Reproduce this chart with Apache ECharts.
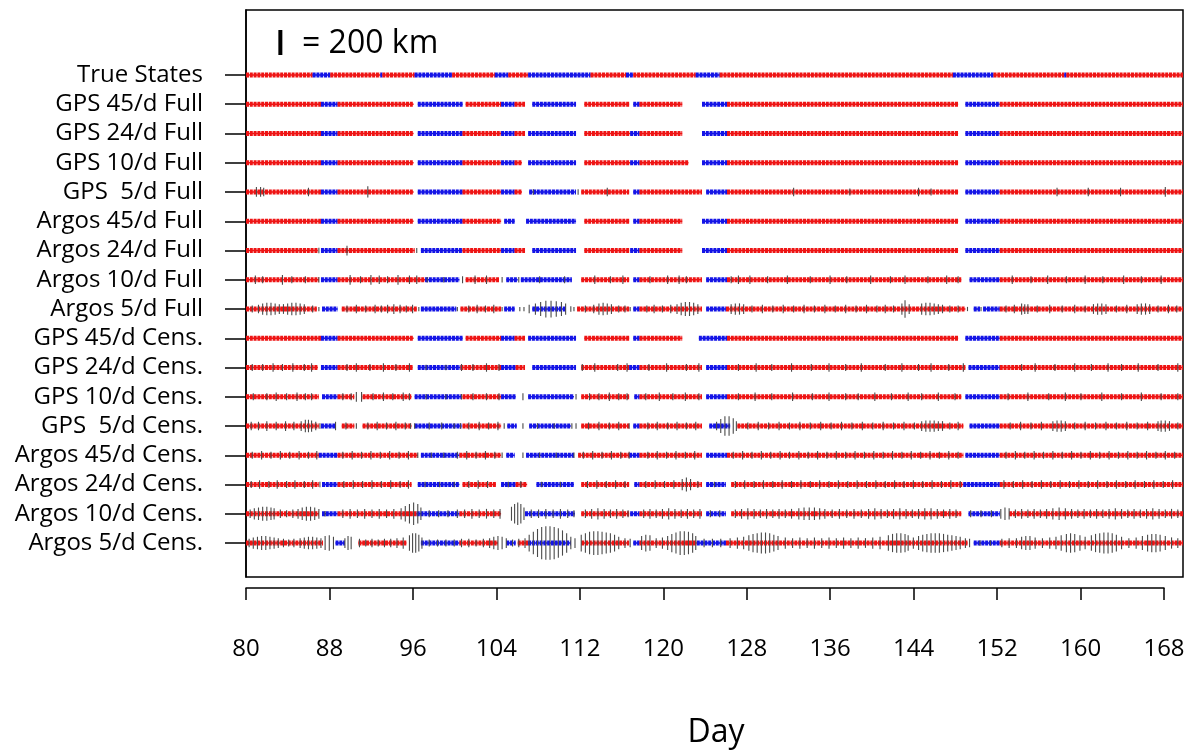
<!DOCTYPE html>
<html><head><meta charset="utf-8">
<script src="https://cdn.jsdelivr.net/npm/echarts@6/dist/echarts.min.js"></script>
<style>html,body{margin:0;padding:0;background:#fff}#c{width:1190px;height:750px}</style>
</head><body><div id="c"></div>
<script>
// ---------- DATA ----------
const rowLabels = ["True States","GPS 45/d Full","GPS 24/d Full","GPS 10/d Full","GPS  5/d Full",
  "Argos 45/d Full","Argos 24/d Full","Argos 10/d Full","Argos 5/d Full",
  "GPS 45/d Cens.","GPS 24/d Cens.","GPS 10/d Cens.","GPS  5/d Cens.",
  "Argos 45/d Cens.","Argos 24/d Cens.","Argos 10/d Cens.","Argos 5/d Cens."];
const dayTicks = [80,88,96,104,112,120,128,136,144,152,160,168];
const scaleBarKm = 200;

// segments: [startDay, endDay, state]  (R = state 1, B = state 2)
const segTrue = [[80,86.4,'R'],[86.4,88.1,'B'],[88.1,92.9,'R'],[92.9,93.1,'B'],[93.1,96.2,'R'],[96.2,99.8,'B'],[99.8,103.9,'R'],[103.9,105.2,'B'],[105.2,107.1,'R'],[107.1,113.1,'B'],[113.1,116.5,'R'],[116.5,117.2,'B'],[117.2,123.2,'R'],[123.2,125.5,'B'],[125.5,147.9,'R'],[147.9,151.8,'B'],[151.8,158.6,'R'],[158.6,158.8,'B'],[158.8,170,'R']];
const segGps45F = [[80,87.2,'R'],[87.2,88.8,'B'],[88.8,96.1,'R'],[96.5,100.8,'B'],[101.1,104.5,'R'],[104.5,105.8,'B'],[105.8,106.8,'R'],[107.5,111.7,'B'],[112.5,116.8,'R'],[117.2,117.8,'B'],[117.8,121.9,'R'],[123.8,126.2,'B'],[126.2,148.4,'R'],[149.1,152.4,'B'],[152.4,170,'R']];
const segGps24F = [[80,87.2,'R'],[87.2,88.8,'B'],[88.8,96.1,'R'],[96.5,100.8,'B'],[100.8,104.5,'R'],[104.5,105.8,'B'],[105.8,106.8,'R'],[107.1,111.7,'B'],[112.5,116.9,'R'],[116.9,117.8,'B'],[117.8,121.9,'R'],[123.8,126.2,'B'],[126.2,148.4,'R'],[149.1,152.4,'B'],[152.4,170,'R']];
const segGps10F = [[80,87.2,'R'],[87.2,88.8,'B'],[88.8,96.1,'R'],[96.5,100.8,'B'],[100.8,104.5,'R'],[104.5,105.8,'B'],[105.8,106.5,'R'],[107.1,111.7,'B'],[112.5,116.9,'R'],[116.9,117.8,'B'],[117.8,122.5,'R'],[123.8,126.2,'B'],[126.2,148.4,'R'],[149.1,152.4,'B'],[152.4,170,'R']];
const segGps5F = [[80,87.2,'R'],[87.2,88.8,'B'],[88.8,96.1,'R'],[96.5,100.8,'B'],[100.8,104.5,'R'],[104.5,105.8,'B'],[105.8,106.5,'R'],[107.2,111.7,'B'],[112.2,116.8,'R'],[117.2,117.8,'B'],[117.8,123.8,'R'],[124.2,126.2,'B'],[126.2,148.4,'R'],[149.1,152.4,'B'],[152.4,170,'R']];
const segArgos45F = [[80,87.2,'R'],[87.2,88.8,'B'],[88.8,96.1,'R'],[96.5,100.8,'B'],[100.8,104.5,'R'],[104.8,105.8,'B'],[106.9,111.7,'B'],[112.5,116.8,'R'],[117.2,117.8,'B'],[117.8,121.9,'R'],[123.8,126.2,'B'],[126.2,148.4,'R'],[149.1,152.4,'B'],[152.4,170,'R']];
const segArgos24F = [[80,86.9,'R'],[87.2,88.8,'B'],[88.8,96.2,'R'],[96.8,100.8,'B'],[100.8,104.5,'R'],[104.5,105.8,'B'],[105.8,106.8,'R'],[107.5,111.7,'B'],[112.5,116.8,'R'],[116.9,117.8,'B'],[117.8,121.9,'R'],[123.8,126.2,'B'],[126.2,148.4,'R'],[149.1,152.4,'B'],[152.4,170,'R']];
const segArgos10F = [[80,87.0,'R'],[87.2,88.8,'B'],[88.8,97.2,'R'],[97.2,100.5,'B'],[101.1,104.3,'R'],[105.0,106.1,'B'],[106.4,111.3,'B'],[112.2,116.8,'R'],[117.2,117.8,'B'],[117.8,123.8,'R'],[124.2,126.2,'B'],[126.2,148.7,'R'],[149.5,152.4,'B'],[152.4,170,'R']];
const segArgos5F = [[80,86.8,'R'],[87.3,88.8,'B'],[89.2,96.4,'R'],[96.8,100.2,'B'],[100.6,104.5,'R'],[104.8,105.8,'B'],[107.5,110.7,'B'],[111.8,116.8,'R'],[117.2,117.8,'B'],[117.8,123.8,'R'],[124.2,126.1,'B'],[126.1,149.1,'R'],[149.9,150.5,'B'],[150.8,152.4,'B'],[152.4,170,'R']];
const segGps45C = [[80,87.2,'R'],[87.2,88.8,'B'],[88.8,96.1,'R'],[96.5,100.8,'B'],[101.1,104.5,'R'],[104.5,105.8,'B'],[105.8,106.8,'R'],[107.1,111.7,'B'],[112.5,116.8,'R'],[117.2,117.8,'B'],[117.8,121.9,'R'],[123.5,126.2,'B'],[126.2,148.4,'R'],[149.1,152.4,'B'],[152.4,170,'R']];
const segGps24C = [[80,86.9,'R'],[87.2,88.8,'B'],[88.8,96.0,'R'],[96.5,100.6,'B'],[100.6,104.5,'R'],[104.5,105.9,'B'],[105.9,106.8,'R'],[107.5,111.7,'B'],[112.2,116.8,'R'],[116.8,117.8,'B'],[117.8,123.8,'R'],[124.2,126.2,'B'],[126.2,149.1,'R'],[149.4,152.4,'B'],[152.4,170,'R']];
const segGps10C = [[80,87.0,'R'],[87.3,88.8,'B'],[88.8,90.4,'R'],[91.2,95.9,'R'],[96.2,100.7,'B'],[100.8,104.5,'R'],[104.5,105.9,'B'],[107.1,111.5,'B'],[112.2,116.8,'R'],[117.3,117.8,'B'],[117.8,123.8,'R'],[124.2,126.2,'B'],[126.2,148.7,'R'],[149.1,152.4,'B'],[152.4,170,'R']];
const segGps5C = [[80,87.0,'R'],[87.2,88.6,'B'],[89.2,90.4,'R'],[91.2,95.9,'R'],[96.2,100.7,'B'],[100.8,104.5,'R'],[105.1,106.0,'B'],[107.2,111.2,'B'],[112.2,116.8,'R'],[117.2,117.8,'B'],[117.8,123.8,'R'],[124.5,126.5,'B'],[127.2,148.9,'R'],[149.5,152.4,'B'],[152.4,170,'R']];
const segArgos45C = [[80,87.0,'R'],[87.0,88.8,'B'],[88.8,96.5,'R'],[96.8,100.5,'B'],[100.5,104.5,'R'],[105.0,105.8,'B'],[106.9,111.5,'B'],[111.9,116.8,'R'],[116.8,117.8,'B'],[117.8,123.8,'R'],[124.2,126.2,'B'],[126.2,148.9,'R'],[149.1,152.4,'B'],[152.4,170,'R']];
const segArgos24C = [[80,87.0,'R'],[87.3,88.8,'B'],[88.8,95.9,'R'],[96.5,100.5,'B'],[100.8,104.0,'R'],[104.5,105.9,'B'],[105.9,107.0,'R'],[107.9,111.5,'B'],[112.2,116.8,'R'],[117.3,117.8,'B'],[117.8,123.8,'R'],[124.2,126.1,'B'],[126.6,148.9,'R'],[148.9,152.4,'B'],[152.4,170,'R']];
const segArgos10C = [[80,87.0,'R'],[87.3,88.8,'B'],[88.8,96.4,'R'],[96.4,100.5,'B'],[100.5,104.5,'R'],[106.8,111.6,'B'],[112.2,116.8,'R'],[116.9,117.8,'B'],[117.8,123.8,'R'],[124.2,126.1,'B'],[126.6,148.7,'R'],[149.4,152.4,'B'],[153.3,170,'R']];
const segArgos5C = [[80,87.4,'R'],[88.6,89.5,'B'],[90.8,95.4,'R'],[96.8,100.5,'B'],[100.5,104.2,'R'],[105.0,105.9,'B'],[106.1,107.1,'R'],[107.1,111.2,'B'],[112.2,116.8,'R'],[117.2,117.8,'B'],[117.8,123.3,'R'],[123.3,126.1,'B'],[126.1,149.3,'R'],[149.9,152.4,'B'],[152.4,170,'R']];

// error bars: [day, half-length in km]
const errGps5F = [[81.0,39],[81.4,39],[81.7,34],[86.0,34],[91.7,45],[107.6,22],[111.9,22],[114.7,34],[132.6,34],[138.0,28],[144.6,34],[145.8,28],[157.9,34],[160.9,34],[164.0,34],[168.3,39]];
const errArgos24F = [[87.0,22],[89.7,39],[96.4,20]];
const errArgos10F = [[80.9,34],[81.6,28],[83.5,39],[84.4,28],[85.7,28],[87.0,22],[90.0,39],[91.0,28],[92.0,39],[92.8,34],[93.6,28],[94.6,39],[95.7,34],[96.4,34],[97.4,22],[99.0,22],[100.8,28],[102.0,34],[103.1,34],[104.6,22],[106.2,22],[108.2,28],[110.6,28],[113.5,34],[115.0,28],[116.2,34],[118.8,28],[120.5,34],[121.6,34],[122.3,28],[126.6,28],[127.3,34],[128.4,34],[130.1,28],[132.0,34],[134.2,28],[136.1,34],[137.7,28],[140.0,34],[141.9,28],[143.3,34],[145.5,28],[147.3,34],[148.4,28],[153.6,34],[155.4,28],[157.0,34],[158.8,28],[160.6,34],[162.3,28],[164.3,34],[166.0,28],[167.9,34]];
const errArgos5F = [[80.6,28],[81.2,34],[81.6,45],[82.0,50],[82.4,50],[82.8,45],[83.2,39],[83.6,39],[84.0,45],[84.4,50],[84.8,50],[85.2,45],[85.6,39],[86.4,28],[87.0,17],
 [89.7,28],[90.6,34],[91.5,28],[92.4,34],[93.0,28],[93.6,34],[94.2,39],[94.8,34],[95.4,28],[96.0,34],[96.6,17],
 [100.3,17],[101.4,28],[102.2,34],[103.0,28],[103.8,34],[104.6,17],
 [106.3,17],[106.7,17],[107.2,34],[107.8,45],[108.3,56],[108.8,67],[109.3,67],[109.8,62],[110.3,56],[110.7,45],[111.2,22],[111.5,17],
 [112.6,28],[113.4,34],[113.9,45],[114.3,50],[114.7,45],[115.1,39],[115.8,28],[116.4,28],[116.9,17],
 [118.5,28],[119.2,34],[120.0,28],[120.8,34],[121.4,39],[121.8,50],[122.2,56],[122.6,56],[123.0,50],[123.4,39],
 [126.6,39],[127.0,45],[127.4,45],[127.8,39],[128.6,28],[129.6,34],[130.6,28],[131.6,34],[132.6,28],[133.6,34],[134.6,28],[135.6,34],[136.6,28],[137.6,34],[138.6,28],[139.6,34],[140.6,28],[141.4,34],[142.2,28],[143.0,45],[143.3,70],[143.7,39],[144.9,45],[145.3,50],[145.7,50],[146.1,45],[146.5,39],[146.9,34],[147.6,28],[148.4,28],[149.3,17],[150.6,17],
 [153.0,28],[153.8,34],[154.5,45],[154.8,39],[155.1,39],[156.0,28],[157.2,34],[158.4,28],[159.6,34],[160.6,28],[161.4,39],[161.8,45],[162.2,45],[162.6,39],[163.6,28],[164.6,34],[165.6,39],[166.0,45],[166.4,45],[166.8,39],[167.6,28],[168.6,34],[169.4,28]];
const errGps24C = [[80.6,28],[81.6,28],[82.6,34],[83.5,28],[84.5,34],[85.6,28],[86.3,34],[89.7,28],[90.6,34],[91.9,28],[93.2,34],[94.4,28],[95.7,34],[97.3,22],[99.2,22],[100.7,28],[101.8,28],[103.1,34],[104.3,28],[112.3,28],[113.5,34],[115.7,28],[116.6,34],[118.7,28],[120.4,34],[122.3,28],[123.5,34],[127.3,28],[129.0,34],[130.5,28],[132.4,34],[134.3,28],[136.0,34],[137.6,28],[139.1,34],[141.4,28],[143.0,34],[144.6,28],[145.8,34],[147.5,28],[148.9,34],[154.5,28],[155.8,34],[157.7,28],[159.6,34],[161.2,28],[162.8,34],[164.1,28],[165.7,34],[167.6,28],[169.5,34]];
const errGps10C = [[80.7,28],[82.0,28],[82.9,34],[83.9,28],[84.9,34],[85.7,28],[86.3,28],[89.3,28],[90.1,28],[90.6,39],[91.1,39],[92.2,28],[93.2,34],[94.1,28],[95.1,34],[95.7,28],[97.3,22],[99.2,22],[100.7,22],[101.8,28],[103.1,28],[104.3,28],[106.6,28],[111.7,22],[113.0,28],[113.9,28],[114.9,34],[115.8,28],[116.6,28],[118.4,28],[119.7,34],[121.0,28],[122.2,34],[123.5,28],[127.3,28],[128.9,34],[130.5,28],[132.5,34],[134.4,28],[136.0,34],[137.6,28],[138.8,28],[140.4,34],[142.0,28],[143.6,34],[144.9,28],[146.5,34],[148.1,28],[153.2,28],[155.1,34],[157.1,28],[158.7,34],[160.2,28],[162.2,34],[164.1,28],[166.0,34],[167.9,28],[169.5,28]];
const errGps5C = [[80.5,34],[81.2,34],[82.0,39],[82.9,34],[83.8,39],[84.6,34],[85.3,39],[85.7,50],[86.0,50],[86.3,45],[86.7,34],[87.1,22],[88.6,34],[89.6,28],[90.6,22],[91.7,28],[92.6,34],[93.5,28],[94.4,34],[95.3,28],[95.8,22],[96.2,22],[97.6,28],[98.8,28],[100.0,22],[100.6,22],[101.4,28],[102.4,34],[103.3,28],[104.2,34],[104.8,22],[106.6,22],[108.0,22],[109.6,22],[111.3,22],[111.7,22],[112.9,28],[113.9,34],[114.9,28],[115.8,34],[116.8,22],[118.6,28],[119.5,34],[120.5,28],[121.4,34],[122.3,28],[123.2,34],[125.2,34],[125.6,56],[126.0,78],[126.4,78],[126.8,62],[127.1,39],[128.2,28],[129.2,34],[130.2,28],[131.2,34],[132.2,28],[133.2,34],[134.2,28],[135.2,34],[136.2,28],[137.2,34],[138.2,28],[139.2,34],[140.2,28],[141.2,34],[142.2,28],[143.2,34],[144.2,28],[144.9,39],[145.3,45],[145.7,45],[146.1,45],[146.5,39],[146.9,39],[147.6,28],[148.4,34],[153.4,28],[154.4,34],[155.4,28],[156.4,34],[157.5,39],[157.9,45],[158.3,45],[158.7,39],[159.6,28],[160.6,34],[161.6,28],[162.6,34],[163.6,28],[164.6,34],[165.6,28],[166.6,34],[167.6,39],[167.9,45],[168.3,45],[168.7,39],[169.5,28]];
const errArgos45C = [[80.6,28],[81.5,34],[82.4,28],[83.3,34],[84.2,28],[85.1,34],[86.0,28],[86.8,34],[89.3,28],[90.2,34],[91.1,28],[92.0,34],[92.9,28],[93.8,34],[94.7,28],[95.6,34],[96.5,22],[97.8,22],[99.0,22],[100.3,28],[101.2,34],[102.1,28],[103.0,34],[103.9,28],[104.6,22],[106.6,22],[108.2,22],[109.8,22],[111.5,22],[112.4,28],[113.3,34],[114.2,28],[115.1,34],[116.0,28],[116.8,28],[118.6,28],[119.5,34],[120.4,28],[121.3,34],[122.2,28],[123.1,34],[126.8,28],[127.7,34],[128.6,28],[129.5,34],[130.4,28],[131.3,34],[132.2,28],[133.1,34],[134.0,28],[134.9,34],[135.8,28],[136.7,34],[137.6,28],[138.5,34],[139.4,28],[140.3,34],[141.2,28],[142.1,34],[143.0,28],[143.9,34],[144.8,28],[145.7,34],[146.6,28],[147.5,34],[148.4,28],[153.0,28],[153.9,34],[154.8,28],[155.7,34],[156.6,28],[157.5,34],[158.4,28],[159.3,34],[160.2,28],[161.1,34],[162.0,28],[162.9,34],[163.8,28],[164.7,34],[165.6,28],[166.5,34],[167.4,28],[168.3,34],[169.2,28]];
const errArgos24C = [[80.5,28],[81.3,34],[82.2,28],[83.0,34],[83.9,28],[84.7,34],[85.6,28],[86.4,34],[87.1,22],[89.4,28],[90.3,34],[91.2,28],[92.1,34],[93.0,28],[93.9,34],[94.8,28],[95.6,34],[97.2,22],[98.6,22],[100.0,22],[101.4,28],[102.3,34],[103.2,28],[105.2,22],[106.4,28],[108.4,22],[110.2,22],[112.8,28],[113.7,34],[114.6,28],[115.5,34],[116.4,28],[118.4,28],[119.3,34],[120.2,28],[121.1,34],[121.9,45],[122.3,56],[122.7,45],[123.4,28],[125.0,22],[127.0,28],[127.9,34],[128.8,28],[129.7,34],[130.6,28],[131.5,34],[132.4,28],[133.3,34],[134.2,28],[135.1,34],[136.0,28],[136.9,34],[137.8,28],[138.7,34],[139.6,28],[140.5,34],[141.4,28],[142.3,34],[143.2,28],[144.1,34],[145.0,28],[145.9,34],[146.8,28],[147.7,34],[148.6,28],[152.8,34],[153.7,28],[154.6,34],[155.5,28],[156.4,34],[157.3,28],[158.2,34],[159.1,28],[160.0,34],[160.9,28],[161.8,34],[162.7,28],[163.6,34],[164.5,28],[165.4,34],[166.3,28],[167.2,34],[168.1,28],[169.0,34]];
const errArgos10C = [[80.4,34],[80.8,45],[81.2,50],[81.6,56],[82.0,56],[82.4,50],[82.7,45],[83.3,34],[83.9,28],[84.5,34],[85.0,39],[85.4,50],[85.8,56],[86.2,56],[86.6,50],[87.0,39],[87.6,22],[89.3,34],[90.0,39],[90.7,34],[91.4,39],[92.1,34],[92.8,39],[93.5,34],[94.2,39],[94.9,45],[95.3,62],[95.7,78],[96.1,90],[96.5,78],[96.8,50],[97.6,28],[98.5,28],[99.4,28],[100.3,34],[101.0,34],[101.7,39],[102.4,34],[103.1,39],[103.8,34],[104.4,39],[105.5,56],[105.8,78],[106.1,90],[106.4,78],[106.7,50],[107.4,34],[108.1,34],[108.8,39],[109.5,34],[110.2,39],[110.9,34],[111.5,28],[112.6,34],[113.2,39],[113.8,45],[114.4,39],[115.0,34],[115.6,39],[116.2,34],[116.7,28],[118.2,34],[118.8,39],[119.4,34],[120.0,39],[120.6,45],[121.2,39],[121.8,34],[122.4,39],[123.0,34],[123.6,39],[124.6,28],[125.5,28],[127.0,34],[127.6,39],[128.2,45],[128.8,39],[129.4,34],[130.0,39],[130.6,34],[131.2,39],[131.8,34],[132.4,39],[133.1,45],[133.6,50],[134.1,50],[134.6,50],[135.1,45],[135.6,39],[136.3,34],[137.0,39],[137.7,34],[138.4,39],[139.1,34],[139.8,39],[140.4,45],[141.0,39],[141.6,34],[142.2,39],[142.8,45],[143.4,39],[144.0,34],[144.6,39],[145.2,45],[145.8,45],[146.4,39],[147.0,34],[147.6,39],[148.2,34],[149.6,28],[150.6,28],[151.6,28],[152.5,39],[152.9,50],[153.3,45],[153.9,34],[154.5,39],[155.1,34],[155.7,39],[156.3,34],[156.9,39],[157.5,45],[158.1,50],[158.7,45],[159.3,39],[159.9,34],[160.5,39],[161.1,34],[161.7,39],[162.3,34],[162.9,39],[163.5,45],[164.1,39],[164.7,34],[165.3,39],[165.9,34],[166.5,39],[167.1,45],[167.7,39],[168.3,34],[168.9,39],[169.5,34]];
const errArgos5C = [[80.3,34],[80.7,45],[81.1,50],[81.5,56],[81.9,56],[82.3,50],[82.7,45],[83.1,39],[83.6,34],[84.1,28],[84.6,34],[85.2,39],[85.6,45],[86.0,50],[86.4,50],[86.8,45],[87.2,39],[87.6,56],[88.0,62],[88.4,50],[89.5,39],[89.8,56],[90.1,50],[90.9,34],[91.5,28],[92.1,34],[92.7,28],[93.3,34],[93.9,34],[94.5,39],[95.1,45],[95.7,62],[96.0,78],[96.3,78],[96.6,67],[96.9,45],[97.6,28],[98.4,28],[99.2,28],[100.0,28],[100.7,34],[101.4,34],[102.1,28],[102.8,34],[103.4,39],[103.8,50],[104.2,56],[104.6,50],[105.0,39],[105.6,28],[106.2,34],[106.8,39],[107.2,67],[107.6,90],[108.0,112],[108.4,129],[108.8,134],[109.2,134],[109.6,129],[110.0,118],[110.4,101],[110.8,78],[111.2,50],[111.6,39],[112.2,67],[112.6,78],[113.0,90],[113.4,95],[113.8,95],[114.2,90],[114.6,84],[115.0,78],[115.4,67],[115.8,50],[116.4,39],[116.9,34],[118.0,56],[118.4,67],[118.8,62],[119.4,39],[120.0,45],[120.5,56],[120.9,73],[121.3,84],[121.7,95],[122.1,95],[122.5,90],[122.9,78],[123.2,56],[124.0,34],[124.8,34],[125.6,34],[126.5,39],[127.2,45],[127.8,50],[128.3,62],[128.7,73],[129.1,78],[129.5,84],[129.9,84],[130.3,78],[130.7,67],[131.1,56],[131.8,45],[132.5,39],[133.2,45],[133.9,39],[134.6,45],[135.3,39],[136.0,45],[136.7,39],[137.4,45],[138.1,39],[138.8,45],[139.5,39],[140.2,45],[140.9,50],[141.7,62],[142.1,73],[142.5,78],[142.9,78],[143.3,73],[143.6,62],[144.1,45],[144.6,56],[145.0,67],[145.4,73],[145.8,78],[146.2,78],[146.6,78],[147.0,73],[147.4,67],[147.8,62],[148.2,56],[148.6,50],[149.1,39],[149.5,34],[150.5,22],[151.5,22],[152.6,34],[153.3,39],[154.0,39],[154.5,50],[154.9,56],[155.3,56],[155.8,45],[156.5,39],[157.2,45],[157.8,50],[158.3,62],[158.8,73],[159.2,78],[159.6,73],[160.1,62],[160.6,50],[161.2,62],[161.6,73],[162.0,78],[162.4,84],[162.8,84],[163.2,78],[163.6,67],[164.1,50],[164.8,39],[165.5,45],[166.1,56],[166.6,67],[167.0,73],[167.4,73],[167.8,67],[168.3,56],[168.9,45],[169.5,39]];

// ---------- BUILD ----------
const segRows = [segTrue,segGps45F,segGps24F,segGps10F,segGps5F,segArgos45F,segArgos24F,segArgos10F,segArgos5F,
  segGps45C,segGps24C,segGps10C,segGps5C,segArgos45C,segArgos24C,segArgos10C,segArgos5C];
const errRows = [[],[],[],[],errGps5F,[],errArgos24F,errArgos10F,errArgos5F,
  [],errGps24C,errGps10C,errGps5C,errArgos45C,errArgos24C,errArgos10C,errArgos5C];

const KM_PER_ROW = 234; // 200 km = 25 px, rows 29.25 px apart
const segData = [];
segRows.forEach((segs, r) => segs.forEach(s => segData.push([s[0], r, s[1], s[2] === 'R' ? 1 : 2])));
const errData = [];
errRows.forEach((errs, r) => errs.forEach(e => errData.push([e[0], r, e[1]])));
const rowIdx = rowLabels.map((_, i) => i);

const FONT = '"Open Sans", "DejaVu Sans", sans-serif';
const chart = echarts.init(document.getElementById('c'), null, {renderer: 'canvas'});
chart.setOption({
  animation: false,
  backgroundColor: '#fff',
  grid: [
    {left: 246, right: 7, top: 10, bottom: 173, show: true, borderColor: '#000', borderWidth: 1.5, backgroundColor: 'transparent'},
    {left: 246, width: 918, top: 586, height: 2}
  ],
  xAxis: [
    {gridIndex: 0, type: 'value', min: 80, max: 170, show: false},
    {gridIndex: 1, type: 'value', min: 80, max: 168, interval: 8, position: 'bottom',
      axisLine: {show: true, lineStyle: {color: '#000', width: 1.5}},
      axisTick: {show: true, length: 12, lineStyle: {color: '#000', width: 1.5}},
      axisLabel: {margin: 49, fontSize: 24, color: '#000', fontFamily: FONT},
      splitLine: {show: false}}
  ],
  yAxis: [
    {gridIndex: 0, type: 'value', inverse: true, min: -2.222, max: 17.162,
      axisLine: {show: true, lineStyle: {color: '#000', width: 1.5}},
      axisTick: {show: true, length: 21, customValues: rowIdx, lineStyle: {color: '#000', width: 1.5}},
      axisLabel: {customValues: rowIdx, formatter: v => rowLabels[Math.round(v)] || '', margin: 43,
        fontSize: 24, color: '#000', fontFamily: FONT},
      splitLine: {show: false}},
    {gridIndex: 1, type: 'value', show: false, min: 0, max: 1}
  ],
  graphic: [
    {type: 'text', x: 302, y: 44, style: {text: '= 200 km', fontSize: 32, fill: '#000', fontFamily: FONT, verticalAlign: 'middle'}},
    {type: 'text', x: 716, y: 733, style: {text: 'Day', fontSize: 32, fill: '#000', fontFamily: FONT, align: 'center', verticalAlign: 'middle'}}
  ],
  series: [
    {
      type: 'custom', xAxisIndex: 0, yAxisIndex: 0, data: segData, silent: true, clip: false,
      encode: {x: [0, 2], y: 1},
      renderItem: (params, api) => {
        const p1 = api.coord([api.value(0), api.value(1)]);
        const p2 = api.coord([api.value(2), api.value(1)]);
        const col = api.value(3) === 1 ? '#ee1414' : '#1414e6';
        return {type: 'group', children: [
          {type: 'line', shape: {x1: p1[0], y1: p1[1], x2: p2[0], y2: p2[1]}, style: {stroke: col, lineWidth: 1.6}},
          {type: 'line', shape: {x1: p1[0], y1: p1[1], x2: p2[0], y2: p2[1]}, style: {stroke: col, lineWidth: 5, lineDash: [3, 0.8]}}
        ]};
      }
    },
    {
      type: 'custom', xAxisIndex: 0, yAxisIndex: 0, data: errData, silent: true, clip: false,
      encode: {x: 0, y: 1},
      renderItem: (params, api) => {
        const c = api.coord([api.value(0), api.value(1)]);
        const h = api.size([0, api.value(2) / KM_PER_ROW])[1];
        return {type: 'line', shape: {x1: c[0], y1: c[1] - h, x2: c[0], y2: c[1] + h}, style: {stroke: '#4a4a4a', lineWidth: 1.1}};
      }
    },
    {
      type: 'custom', xAxisIndex: 0, yAxisIndex: 0, data: [[83.3, -1.11, scaleBarKm / 2]], silent: true, clip: false,
      encode: {x: 0, y: 1},
      renderItem: (params, api) => {
        const c = api.coord([api.value(0), api.value(1)]);
        const h = api.size([0, api.value(2) / KM_PER_ROW])[1];
        return {type: 'line', shape: {x1: c[0], y1: c[1] - h, x2: c[0], y2: c[1] + h}, style: {stroke: '#000', lineWidth: 4}};
      }
    }
  ]
});
</script></body></html>
